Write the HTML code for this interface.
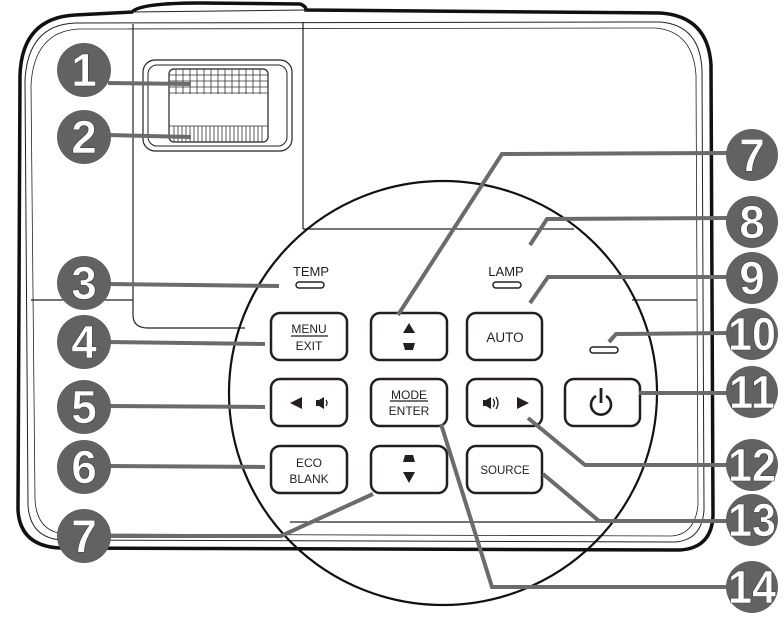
<!DOCTYPE html>
<html><head><meta charset="utf-8"><style>
html,body{margin:0;padding:0;background:#fff;}
svg{display:block;}
.btn{fill:#fff;stroke:#231f20;stroke-width:2.5;}
.bt{font-family:"Liberation Sans",sans-serif;font-size:12px;fill:#231f20;text-anchor:middle;}
.ld{fill:none;stroke:#6b6b6b;stroke-width:4;stroke-linejoin:miter;}
.cn{fill:#626262;}
.nt{font-family:"Liberation Sans",sans-serif;font-weight:bold;font-size:46px;fill:#fff;stroke:#3a3a3a;stroke-width:0.6;text-anchor:middle;}
</style></head><body>
<svg width="784" height="618" viewBox="0 0 784 618" xmlns="http://www.w3.org/2000/svg">
<path d="M20,75 Q22,18 75,15 L132,12 Q140,3 200,3 L300,4 Q306,6 306,10 L660,13 Q708,16 711,65 L713,515 Q712,548 680,550 L60,548 Q20,546 18,510 Z" fill="none" stroke="#111" stroke-width="3.5"/>
<path d="M25,80 Q28,25 75,23 L660,22 Q700,25 702,70 L704,510 Q702,540 675,542 L62,540 Q30,538 28,505 Z" fill="none" stroke="#222" stroke-width="1"/>
<path d="M31,85 Q34,32 78,29 L655,28 Q693,31 696,75 L698,505 Q695,534 672,536 L65,534 Q37,532 35,500 Z" fill="none" stroke="#222" stroke-width="0.8"/>
<line x1="20" y1="75" x2="18" y2="500" stroke="#111" stroke-width="1"/>
<line x1="132" y1="12" x2="306" y2="10" stroke="#222" stroke-width="1"/>
<path d="M133,24 L133,315 Q133,328 148,328 L245,328" fill="none" stroke="#222" stroke-width="1.2"/>
<line x1="303" y1="22" x2="303" y2="229" stroke="#222" stroke-width="1.2"/>
<line x1="303" y1="229" x2="574" y2="229" stroke="#222" stroke-width="1.2"/>
<line x1="31" y1="300" x2="133" y2="300" stroke="#222" stroke-width="1.2"/>
<line x1="632" y1="300" x2="697" y2="300" stroke="#222" stroke-width="1.2"/>
<line x1="290" y1="522" x2="600" y2="522" stroke="#222" stroke-width="1.2"/>
<rect x="143" y="60" width="149" height="91" rx="12" fill="#fff" stroke="#222" stroke-width="1.2"/>
<rect x="148" y="65" width="139" height="81" rx="9" fill="#fff" stroke="#222" stroke-width="1"/>
<rect x="169" y="69" width="99" height="73" rx="5" fill="#fff" stroke="#222" stroke-width="1.2"/>
<g stroke="#333" stroke-width="0.8">
<line x1="169" y1="75" x2="268" y2="75"/><line x1="169" y1="81" x2="268" y2="81"/><line x1="169" y1="87" x2="268" y2="87"/><line x1="169" y1="93" x2="268" y2="93"/>
<line x1="169" y1="126" x2="268" y2="126"/>
</g>
<g stroke="#333" stroke-width="0.8">
<path d="M176,69v25M183,69v25M190,69v25M197,69v25M204,69v25M211,69v25M218,69v25M225,69v25M232,69v25M239,69v25M246,69v25M253,69v25M260,69v25"/>
<path d="M174,126v16M178,126v16M182,126v16M186,126v16M190,126v16M194,126v16M198,126v16M202,126v16M206,126v16M210,126v16M214,126v16M218,126v16M222,126v16M226,126v16M230,126v16M234,126v16M238,126v16M242,126v16M246,126v16M250,126v16M254,126v16M258,126v16M262,126v16"/>
</g>
<ellipse cx="443" cy="393" rx="214" ry="212" fill="none" stroke="#111" stroke-width="2.2"/>
<text x="311" y="276" class="bt" style="font-size:13px">TEMP</text>
<rect x="296" y="282" width="28" height="6" rx="3" fill="#fff" stroke="#222" stroke-width="1.5"/>
<text x="506" y="276" class="bt" style="font-size:13px">LAMP</text>
<rect x="493" y="282" width="28" height="6" rx="3" fill="#fff" stroke="#222" stroke-width="1.5"/>
<rect x="590" y="347" width="28" height="6" rx="3" fill="#fff" stroke="#222" stroke-width="1.5"/>
<rect x="271" y="313" width="76" height="47" rx="9" class="btn"/>
<text x="309" y="333" class="bt">MENU</text><line x1="291" y1="336" x2="328" y2="336" stroke="#231f20" stroke-width="1.2"/>
<text x="309" y="350" class="bt">EXIT</text>
<rect x="371" y="313" width="76" height="47" rx="9" class="btn"/>
<polygon points="409,323 415,333 403,333" fill="#231f20"/><polygon points="403,343 415,343 413,350 405,350" fill="#231f20"/>
<rect x="467" y="313" width="75" height="47" rx="9" class="btn"/>
<text x="505" y="342" class="bt" style="font-size:13.5px">AUTO</text>
<rect x="271" y="379" width="76" height="47" rx="9" class="btn"/>
<polygon points="290,403 302,397 302,409" fill="#231f20"/>
<rect x="316" y="400" width="3" height="6" fill="#231f20"/><polygon points="319,400 324,397 324,409 319,406" fill="#231f20"/><path d="M326,400 q2,3 0,6" stroke="#231f20" stroke-width="1.3" fill="none"/>
<rect x="371" y="379" width="76" height="47" rx="9" class="btn"/>
<text x="409" y="399" class="bt">MODE</text><line x1="390" y1="401" x2="428" y2="401" stroke="#231f20" stroke-width="1.2"/>
<text x="409" y="415" class="bt">ENTER</text>
<rect x="467" y="379" width="75" height="47" rx="9" class="btn"/>
<rect x="483" y="400" width="3" height="6" fill="#231f20"/><polygon points="486,400 491,397 491,409 486,406" fill="#231f20"/><path d="M493,399 q3,4 0,8 M496,397 q4,6 0,12" stroke="#231f20" stroke-width="1.3" fill="none"/>
<polygon points="517,397 529,403 517,409" fill="#231f20"/>
<rect x="565" y="379" width="75" height="47" rx="9" class="btn"/>
<path d="M596,396 a10,10 0 1 0 10,0" fill="none" stroke="#231f20" stroke-width="2.6"/>
<line x1="601" y1="388" x2="601" y2="403" stroke="#231f20" stroke-width="2.8"/>
<rect x="271" y="446" width="76" height="47" rx="9" class="btn"/>
<text x="309" y="467" class="bt">ECO</text><text x="309" y="483" class="bt">BLANK</text>
<rect x="371" y="446" width="76" height="47" rx="9" class="btn"/>
<polygon points="405,455 413,455 415,462 403,462" fill="#231f20"/><polygon points="403,472 415,472 409,483" fill="#231f20"/>
<rect x="467" y="446" width="75" height="47" rx="9" class="btn"/>
<text x="505" y="474" class="bt" style="font-size:11.5px">SOURCE</text>
<g class="ld">
<path d="M108,83 L191,84"/>
<path d="M108,135 L191,137"/>
<path d="M108,284 L279,286"/>
<path d="M108,342 L265,344"/>
<path d="M108,406 L265,407"/>
<path d="M108,466 L265,467"/>
<path d="M108,536 L281,536 L373,494"/>
<path d="M727,153 L502,154 L398,315"/>
<path d="M727,218 L547,219 L530,245"/>
<path d="M727,277 L548,277 L530,303"/>
<path d="M727,333 L616,334 L609,342"/>
<path d="M727,393 L639,393"/>
<path d="M727,465 L585,465 L528,418"/>
<path d="M727,521 L599,521 L543,474"/>
<path d="M727,587 L492,587 L441,424"/>
</g>
<g>
<circle cx="84" cy="70" r="27" class="cn"/><text x="84" y="86" class="nt">1</text>
<circle cx="84" cy="137" r="27" class="cn"/><text x="84" y="153" class="nt">2</text>
<circle cx="84" cy="283" r="27" class="cn"/><text x="84" y="299" class="nt">3</text>
<circle cx="84" cy="342" r="27" class="cn"/><text x="84" y="358" class="nt">4</text>
<circle cx="84" cy="407" r="27" class="cn"/><text x="84" y="423" class="nt">5</text>
<circle cx="84" cy="467" r="27" class="cn"/><text x="84" y="483" class="nt">6</text>
<circle cx="84" cy="536" r="27" class="cn"/><text x="84" y="552" class="nt">7</text>
<circle cx="752" cy="155" r="26" class="cn"/><text x="752" y="171" class="nt">7</text>
<circle cx="752" cy="222" r="26" class="cn"/><text x="752" y="238" class="nt">8</text>
<circle cx="752" cy="278" r="26" class="cn"/><text x="752" y="294" class="nt">9</text>
<circle cx="752" cy="334" r="26" class="cn"/><text x="752" y="350" class="nt" textLength="48" lengthAdjust="spacingAndGlyphs">10</text>
<circle cx="752" cy="392" r="26" class="cn"/><text x="752" y="408" class="nt" textLength="46" lengthAdjust="spacingAndGlyphs">11</text>
<circle cx="752" cy="465" r="26" class="cn"/><text x="752" y="481" class="nt" textLength="48" lengthAdjust="spacingAndGlyphs">12</text>
<circle cx="752" cy="520" r="26" class="cn"/><text x="752" y="536" class="nt" textLength="48" lengthAdjust="spacingAndGlyphs">13</text>
<circle cx="752" cy="587" r="26" class="cn"/><text x="752" y="603" class="nt" textLength="48" lengthAdjust="spacingAndGlyphs">14</text>
</g>
</svg>
</body></html>
